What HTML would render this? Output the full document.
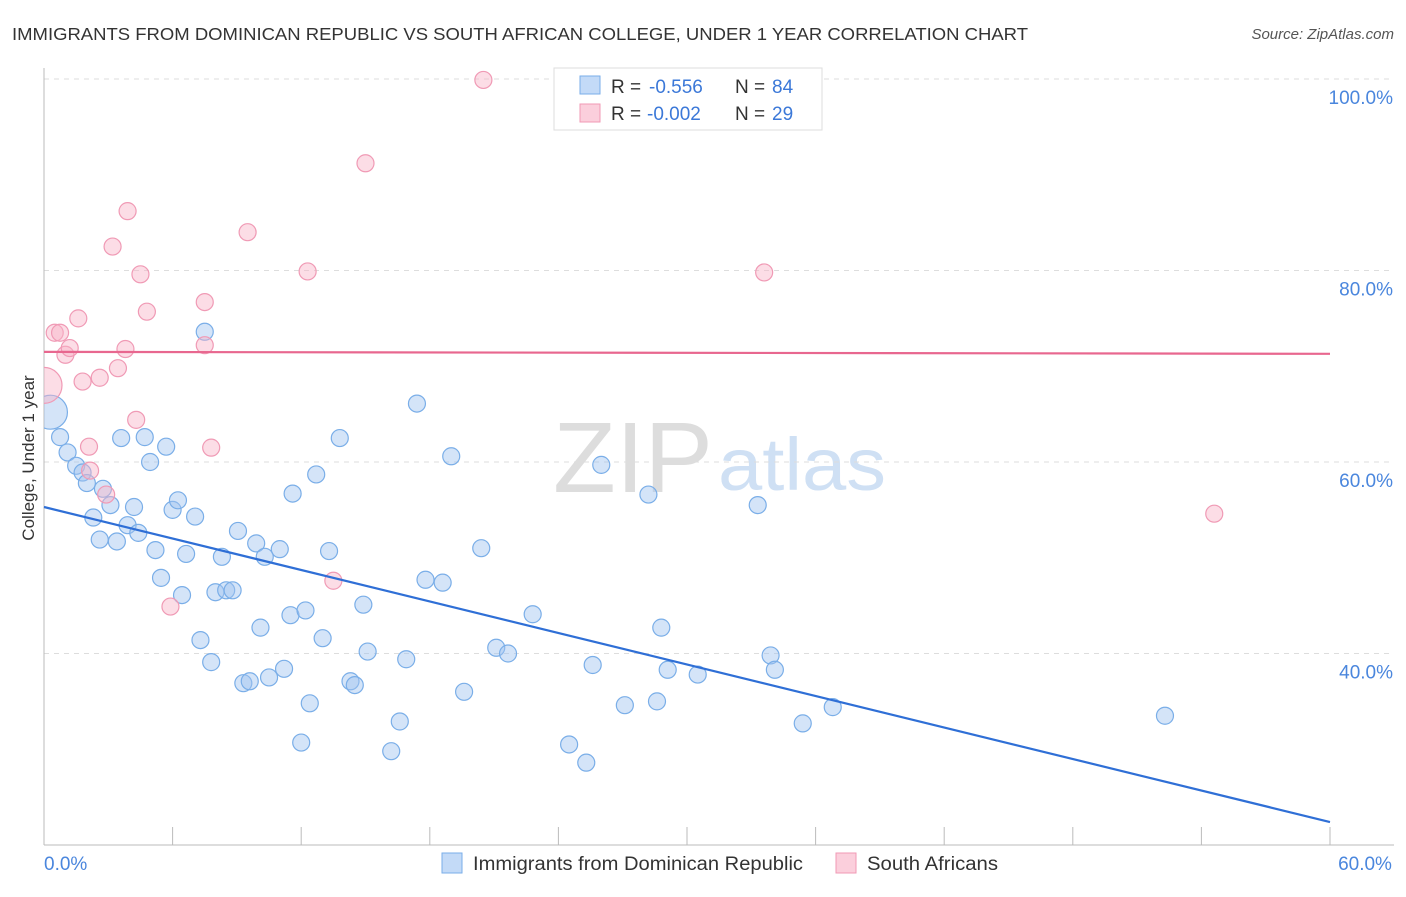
<!DOCTYPE html>
<html><head><meta charset="utf-8"><style>
body{margin:0;background:#fff;font-family:"Liberation Sans",sans-serif;}
svg text{font-family:"Liberation Sans",sans-serif;}
</style></head><body>
<svg id="c" width="1406" height="892">
<defs><clipPath id="pc"><rect x="44" y="60" width="1360" height="785"/></clipPath></defs>
<text x="12" y="40" font-size="17.5" fill="#333" textLength="1016" lengthAdjust="spacingAndGlyphs">IMMIGRANTS FROM DOMINICAN REPUBLIC VS SOUTH AFRICAN COLLEGE, UNDER 1 YEAR CORRELATION CHART</text>
<text x="1394" y="39" font-size="15" fill="#555" font-style="italic" text-anchor="end">Source: ZipAtlas.com</text>
<g><text x="553" y="492" font-size="100" fill="#ddd" font-family="Liberation Serif" textLength="160" lengthAdjust="spacingAndGlyphs">ZIP</text><text x="718" y="490" font-size="74" fill="#cfe0f4" textLength="168" lengthAdjust="spacingAndGlyphs">atlas</text></g>
<g id="grid"></g><g id="axes"></g><g id="pts" clip-path="url(#pc)"></g><g id="trend"></g>
<text transform="translate(34,458) rotate(-90)" font-size="17" fill="#333" text-anchor="middle">College, Under 1 year</text>
<g>
<rect x="554" y="68" width="268" height="62" fill="#fff" stroke="#ddd"/>
<rect x="580" y="76" width="20" height="18" fill="#c3daf7" stroke="#7aaee8"/>
<text x="611" y="93" font-size="19" fill="#333">R =</text><text x="649" y="93" font-size="19" fill="#3b78d8">-0.556</text>
<text x="735" y="93" font-size="19" fill="#333">N =</text><text x="772" y="93" font-size="19" fill="#3b78d8">84</text>
<rect x="580" y="104" width="20" height="18" fill="#fbcfdc" stroke="#f09ab5"/>
<text x="611" y="120" font-size="19" fill="#333">R =</text><text x="647" y="120" font-size="19" fill="#3b78d8">-0.002</text>
<text x="735" y="120" font-size="19" fill="#333">N =</text><text x="772" y="120" font-size="19" fill="#3b78d8">29</text>
</g>
<g>
<rect x="442" y="853" width="20" height="20" fill="#c3daf7" stroke="#7aaee8"/>
<text x="473" y="870" font-size="19" fill="#333" textLength="330" lengthAdjust="spacingAndGlyphs">Immigrants from Dominican Republic</text>
<rect x="836" y="853" width="20" height="20" fill="#fbcfdc" stroke="#f09ab5"/>
<text x="867" y="870" font-size="19" fill="#333" textLength="131" lengthAdjust="spacingAndGlyphs">South Africans</text>
</g>
</svg>
<script>
const yTicks=[40,60,80,100];
const yTickLabels=["40.0%","60.0%","80.0%","100.0%"];
const xTicks=[0,6,12,18,24,30,36,42,48,54,60];
const xTickLabels=["0.0%","60.0%"];
const blueX=[0.3,0.75,1.1,1.5,1.8,2.0,2.3,2.6,2.75,3.1,3.4,3.6,3.9,4.2,4.4,4.7,4.95,5.2,5.46,5.7,6.0,6.25,6.44,6.63,7.05,7.3,7.5,7.8,8.0,8.3,8.5,8.8,9.05,9.3,9.6,9.9,10.1,10.3,10.5,11.0,11.2,11.5,11.6,12.2,12.4,12.0,12.7,13.0,13.3,13.8,14.3,14.5,14.9,15.1,16.2,16.6,16.9,17.4,17.8,18.6,19.0,19.6,20.4,21.1,21.65,22.8,24.5,25.3,25.6,26.0,27.1,28.2,28.6,28.8,29.1,30.5,33.3,33.9,34.1,35.4,36.8,52.3];
const blueY=[65.2,62.6,61.0,59.6,58.9,57.8,54.2,51.9,57.2,55.5,51.7,62.5,53.4,55.3,52.6,62.6,60.0,50.8,47.9,61.6,55.0,56.0,46.1,50.4,54.3,41.4,73.6,39.1,46.4,50.1,46.6,46.6,52.8,36.9,37.1,51.5,42.7,50.1,37.5,50.9,38.4,44.0,56.7,44.5,34.8,30.7,58.7,41.6,50.7,62.5,37.1,36.7,45.1,40.2,29.8,32.9,39.4,66.1,47.7,47.4,60.6,36.0,51.0,40.6,40.0,44.1,30.5,28.6,38.8,59.7,34.6,56.6,35.0,42.7,38.3,37.8,55.5,39.8,38.3,32.7,34.4,33.5];
const pinkX=[0.0,0.5,0.75,1.0,1.2,1.6,1.8,2.15,2.6,2.9,3.2,3.45,3.8,3.9,4.3,4.5,4.8,5.9,7.5,7.5,7.8,9.5,12.3,13.5,15.0,20.5,33.6,54.6,2.1];
const pinkY=[68.0,73.5,73.5,71.2,71.9,75.0,68.4,59.1,68.8,56.6,82.5,69.8,71.8,86.2,64.4,79.6,75.7,44.9,76.7,72.2,61.5,84.0,79.9,47.6,91.2,99.9,79.8,54.6,61.6];
const blueTrend=[55.3,22.4];
const pinkTrend=[71.5,71.3];
const X=v=>44+v*(1286/60), Y=v=>79+(100-v)*9.575;
const NS="http://www.w3.org/2000/svg";
function mk(t,a,p){const e=document.createElementNS(NS,t);for(const k in a)e.setAttribute(k,a[k]);document.getElementById(p).appendChild(e);return e;}
yTicks.forEach((v,i)=>{
 const l=mk('line',{x1:44,x2:1394,y1:Y(v),y2:Y(v),stroke:'#ddd','stroke-dasharray':'5,5'},'grid');
 
 
 const t=mk('text',{x:1393,y:Y(v)+25,'font-size':19,fill:'#4a86dd','text-anchor':'end'},'axes');t.textContent=yTickLabels[i];
 
 
});
let ax=mk('line',{x1:44,x2:44,y1:68,y2:845,stroke:'#bbb'},'axes');


ax=mk('line',{x1:44,x2:1394,y1:845,y2:845,stroke:'#bbb'},'axes');


xTicks.forEach(v=>{const l=mk('line',{x1:X(v),x2:X(v),y1:827,y2:845,stroke:'#bbb'},'axes');
 
 });
[[0,'start',xTickLabels[0]],[60,'middle',xTickLabels[1]]].forEach(([v,a,s],i)=>{
 const t=mk('text',{x:i?1365:44,y:870,'font-size':19,fill:'#4a86dd','text-anchor':a},'axes');t.textContent=s;
 
 });
blueX.forEach((v,i)=>{const c=mk('circle',{cx:X(v),cy:Y(blueY[i]),r:i==0?17:8.5,fill:'rgba(160,196,240,0.45)',stroke:'#7aaee8','stroke-width':1.2},'pts');
 
 });
pinkX.forEach((v,i)=>{const c=mk('circle',{cx:X(v),cy:Y(pinkY[i]),r:i==0?18:8.5,fill:'rgba(248,180,200,0.45)',stroke:'#f09ab5','stroke-width':1.2},'pts');
 
 });
let tl=mk('line',{x1:X(0),x2:X(60),y1:Y(blueTrend[0]),y2:Y(blueTrend[1]),stroke:'#2f6fd6','stroke-width':2.2},'trend');


tl=mk('line',{x1:X(0),x2:X(60),y1:Y(pinkTrend[0]),y2:Y(pinkTrend[1]),stroke:'#e8678f','stroke-width':2.2},'trend');


</script>
</body></html>
